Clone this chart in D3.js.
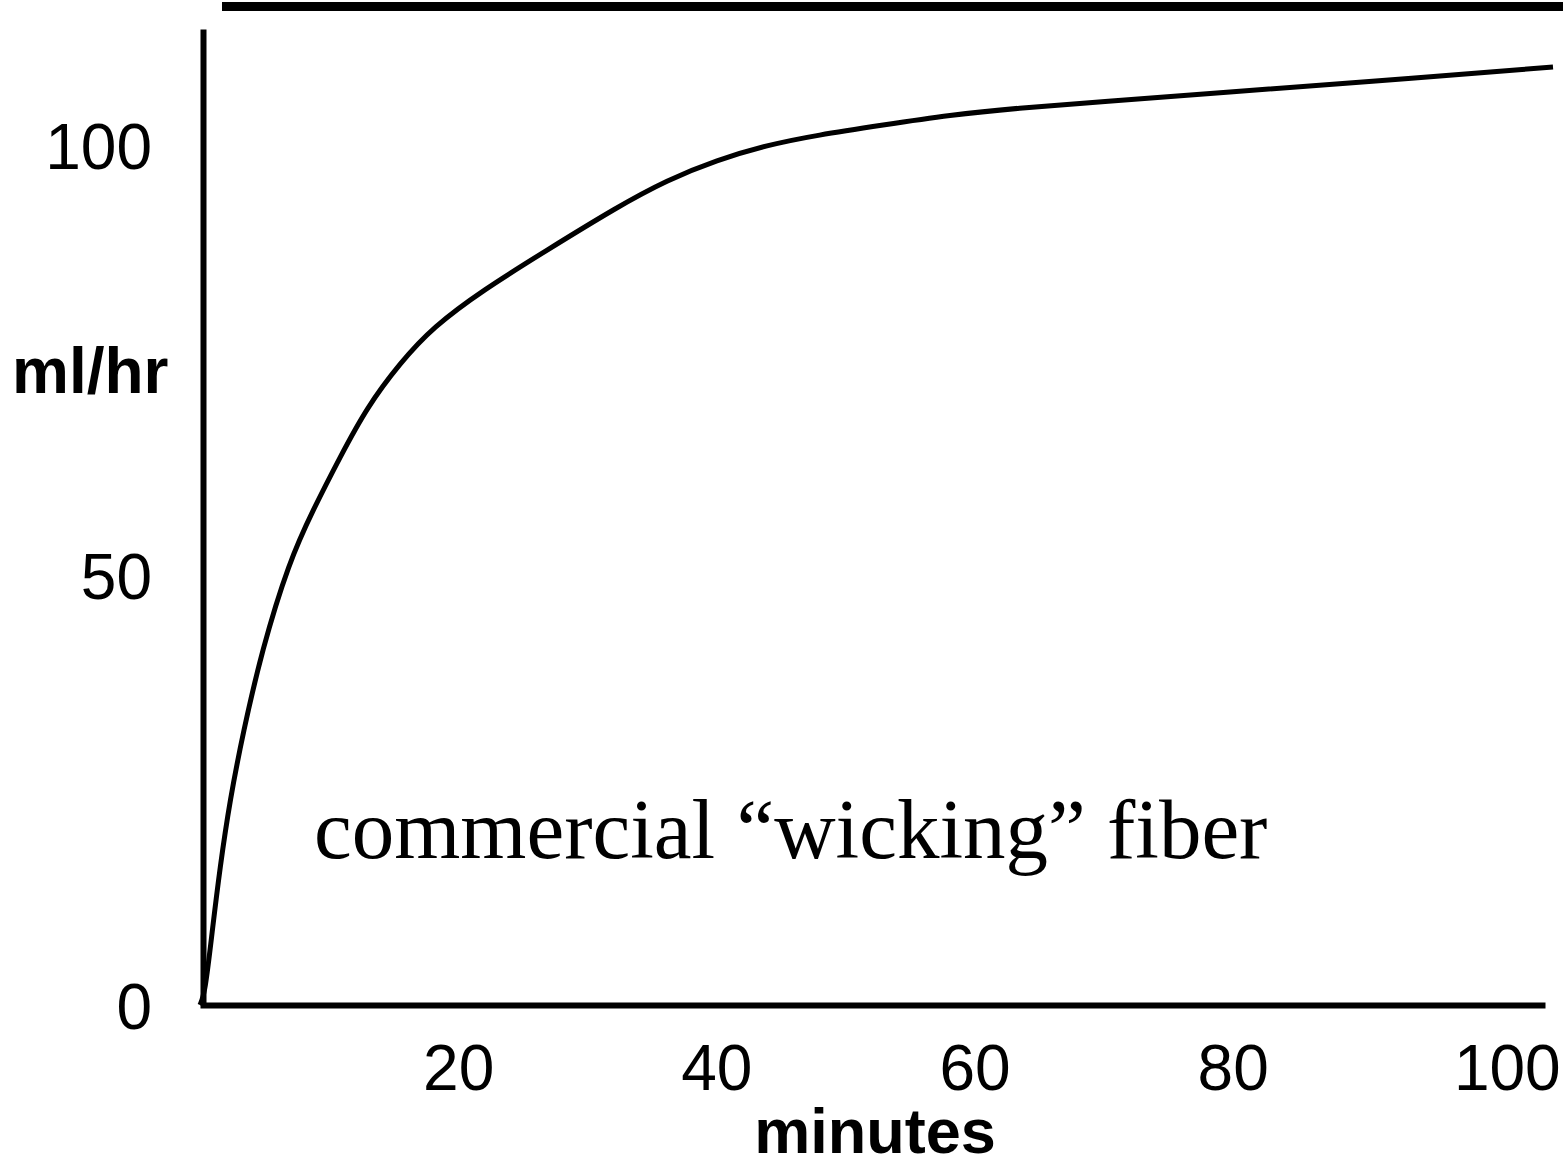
<!DOCTYPE html>
<html>
<head>
<meta charset="utf-8">
<script src="https://cdn.jsdelivr.net/npm/d3@7"></script>
<style>
  html, body { margin: 0; padding: 0; background: #fff; }
  svg { display: block; }
</style>
</head>
<body>
<svg id="chart" width="1566" height="1168"></svg>
<script>
// ---- data ----
const minutes = [0, 0.39, 0.93, 1.55, 2.32, 3.33, 4.80, 6.89, 8.75, 10.85, 12.94, 15.49, 18.05, 21.92, 26.88, 32.31, 36.18, 40.05, 43.93, 47.80, 52.91, 58.10, 63.29, 69.72, 80.03, 90.41, 104.82];
const mlPerHr = [0, 1.40, 8.37, 16.05, 23.84, 31.63, 41.28, 51.51, 57.56, 63.72, 69.53, 74.65, 78.84, 83.14, 87.79, 92.79, 95.93, 98.26, 100.0, 101.16, 102.33, 103.49, 104.30, 105.03, 106.19, 107.38, 109.07];
const xTickValues = [20, 40, 60, 80, 100];
const yTickValues = [0, 50, 100];
const xTitle = "minutes";
const yTitle = "ml/hr";
const annotation = "commercial \u201Cwicking\u201D fiber";

const points = minutes.map((m, i) => ({ m, v: mlPerHr[i] }));

const svg = d3.select("#chart");
const x = d3.scaleLinear().domain([0, 104.2]).range([200, 1545]);
const y = d3.scaleLinear().domain([0, 113.5]).range([1005, 29]);

// top decorative rule
svg.append("line")
  .attr("x1", 222).attr("x2", 1563)
  .attr("y1", 6.5).attr("y2", 6.5)
  .attr("stroke", "#000").attr("stroke-width", 9);

// x axis
const xAxis = svg.append("g")
  .attr("transform", `translate(0,${y(0)})`)
  .call(d3.axisBottom(x).tickValues(xTickValues).tickSize(0).tickSizeOuter(0).tickPadding(40).tickFormat(d3.format("d")));
xAxis.select(".domain").attr("stroke", "#000").attr("stroke-width", 6);
xAxis.selectAll("text")
  .attr("font-family", "Liberation Sans, Arial, sans-serif")
  .attr("font-size", 64).attr("fill", "#000")
  .attr("dx", d => d === 100 ? 16 : 0);

// y axis
const yAxis = svg.append("g")
  .attr("transform", `translate(${x(0) + 3},0)`)
  .call(d3.axisLeft(y).tickValues(yTickValues).tickSize(0).tickSizeOuter(0).tickPadding(51).tickFormat(d3.format("d")));
yAxis.select(".domain").attr("stroke", "#000").attr("stroke-width", 6);
yAxis.selectAll("text")
  .attr("font-family", "Liberation Sans, Arial, sans-serif")
  .attr("font-size", 64).attr("fill", "#000")
  .attr("dy", "0.37em");

// curve
const line = d3.line()
  .x(d => x(d.m))
  .y(d => y(d.v))
  .curve(d3.curveBasis);
svg.append("path")
  .datum(points)
  .attr("d", line)
  .attr("fill", "none")
  .attr("stroke", "#000")
  .attr("stroke-width", 5)
  .attr("stroke-linejoin", "round");

// titles
svg.append("text")
  .attr("x", 12).attr("y", 393)
  .attr("font-family", "Liberation Sans, Arial, sans-serif")
  .attr("font-weight", "bold").attr("font-size", 64)
  .text(yTitle);

svg.append("text")
  .attr("x", 875).attr("y", 1153)
  .attr("text-anchor", "middle")
  .attr("font-family", "Liberation Sans, Arial, sans-serif")
  .attr("font-weight", "bold").attr("font-size", 63)
  .text(xTitle);

svg.append("text")
  .attr("x", 314).attr("y", 858)
  .attr("font-family", "Liberation Serif, Times New Roman, serif")
  .attr("font-size", 85)
  .text(annotation);
</script>
</body>
</html>
